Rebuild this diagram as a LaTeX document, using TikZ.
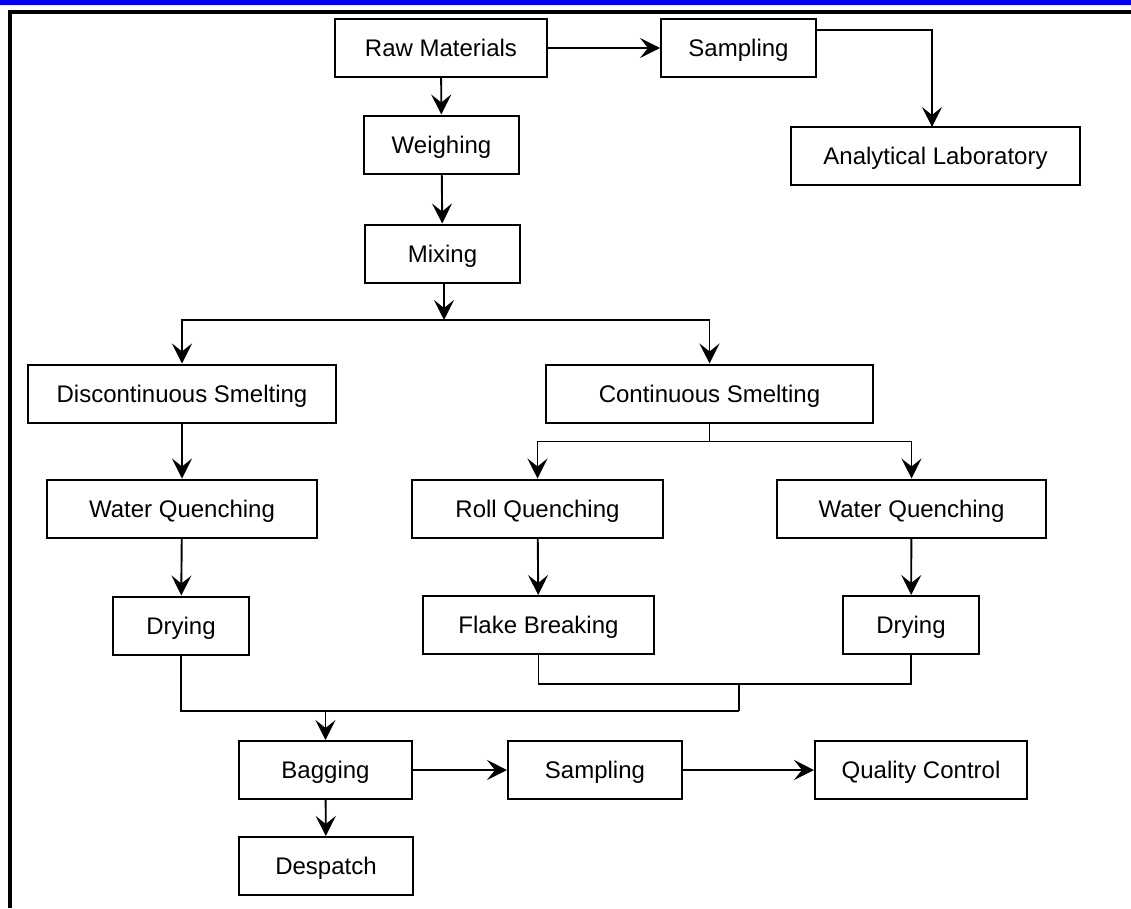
\documentclass[tikz,border=0pt]{standalone}
\usepackage{fontspec}
\setmainfont{Liberation Sans}
\usetikzlibrary{arrows.meta,calc}
\begin{document}
\begin{tikzpicture}[x=1pt,y=-1pt,
  box/.style={draw, line width=2pt, minimum height=58pt, inner sep=0pt, text height=17.2pt, text depth=0pt, font=\fontsize{24}{28}\selectfont},
  conn/.style={line width=1.9pt},
  arr/.style={conn, -{Stealth[length=20pt,width=20pt,inset=8pt]}}]
\useasboundingbox (0,0) rectangle (1131,908);
% frame
\fill[blue] (0,0) rectangle (1131,4.7);
\draw[line width=3.8pt] (9.8,908) -- (9.8,11.7) -- (1131,11.7);
% nodes
\node[box, minimum width=212pt] (rm) at (441,48) {Raw Materials};
\node[box, minimum width=155pt] (samp1) at (738.5,48) {Sampling};
\node[box, minimum width=289pt] (anal) at (935.5,156) {Analytical Laboratory};
\node[box, minimum width=155pt] (weigh) at (441.5,144.5) {Weighing};
\node[box, minimum width=155pt] (mix) at (442.5,253.5) {Mixing};
\node[box, minimum width=308pt] (disc) at (182,393.5) {Discontinuous Smelting};
\node[box, minimum width=327pt] (cont) at (709.5,393.5) {Continuous Smelting};
\node[box, minimum width=270pt] (wq1) at (182,508.5) {Water Quenching};
\node[box, minimum width=251pt] (rq) at (537.5,508.5) {Roll Quenching};
\node[box, minimum width=269pt] (wq2) at (911.5,508.5) {Water Quenching};
\node[box, minimum width=136pt] (dry1) at (181,625.5) {Drying};
\node[box, minimum width=231pt] (flake) at (538.5,625) {Flake Breaking};
\node[box, minimum width=136pt] (dry2) at (911,625) {Drying};
\node[box, minimum width=173pt] (bag) at (325.5,770) {Bagging};
\node[box, minimum width=174pt] (samp2) at (595,770) {Sampling};
\node[box, minimum width=212pt] (qc) at (921,770) {Quality Control};
\node[box, minimum width=174pt] (desp) at (326,866) {Despatch};
% connectors
\draw[arr] (rm) -- (samp1);
\coordinate (a1) at (932,127);
\draw[arr] ($(samp1.north east)+(0,12)$) -| (a1);
\draw[arr] (rm) -- (weigh);
\draw[arr] (weigh) -- (mix);
\coordinate (b1) at (444,320);
\draw[arr] (mix.south -| b1) -- (b1);
\draw[arr] (b1) -| (disc.north);
\draw[arr] (b1) -| (cont.north);
\draw[arr] (disc) -- (wq1);
\draw[arr] (wq1) -- (dry1);
\coordinate (b2) at ($(cont.south)+(0,18)$);
\draw[conn] (cont.south) -- (b2);
\draw[arr] (b2) -| (rq.north);
\draw[arr] (b2) -| (wq2.north);
\draw[arr] (rq) -- (flake);
\draw[arr] (wq2) -- (dry2);
\coordinate (m1) at (739,684);
\coordinate (m2) at (739,711);
\draw[conn] (flake.south) |- (m1) -| (dry2.south);
\draw[conn] (m1) -- (m2);
\draw[conn] (dry1.south) |- (m2);
\draw[arr] (bag.north |- m2) -- (bag.north);
\draw[arr] (bag) -- (samp2);
\draw[arr] (samp2) -- (qc);
\draw[arr] (bag) -- (desp);
\end{tikzpicture}
\end{document}
